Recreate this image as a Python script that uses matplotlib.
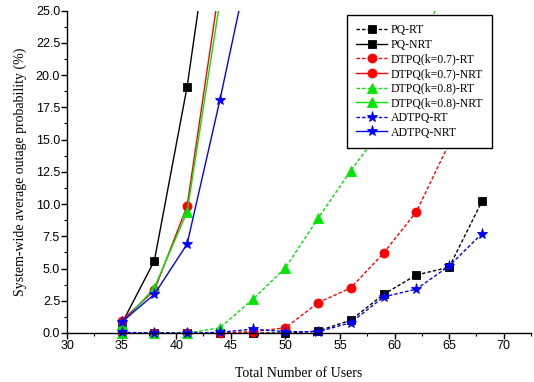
import matplotlib
matplotlib.use("Agg")
import matplotlib.pyplot as plt
from matplotlib.ticker import MultipleLocator, FormatStrFormatter
from matplotlib.transforms import Bbox, TransformedBbox

# ---- data ----
users_rt = [35, 38, 41, 44, 47, 50, 53, 56, 59, 62, 65, 68]
pq_rt = [0.0, 0.0, 0.0, 0.0, 0.0, 0.0, 0.15, 1.0, 3.0, 4.5, 5.1, 10.2]
dtpq07_rt = [0.0, 0.0, 0.0, 0.0, 0.1, 0.4, 2.35, 3.5, 6.2, 9.4, 14.7, 21.0]
dtpq08_rt = [0.0, 0.0, 0.0, 0.4, 2.6, 5.05, 8.9, 12.6, 16.0, 21.0, 28.0, 35.0]
adtpq_rt = [0.05, 0.0, 0.0, 0.05, 0.3, 0.1, 0.1, 0.8, 2.8, 3.4, 5.2, 7.7]

users_nrt = [35, 38, 41, 44, 47]
pq_nrt = [0.7, 5.6, 19.1, 36.8, 55.0]
dtpq07_nrt = [0.95, 3.3, 9.85, 27.1, 45.0]
dtpq08_nrt = [0.7, 3.5, 9.4, 25.7, 42.0]
adtpq_nrt = [0.85, 3.0, 6.9, 18.05, 30.0]

labels = ["PQ-RT", "PQ-NRT", "DTPQ(k=0.7)-RT", "DTPQ(k=0.7)-NRT",
          "DTPQ(k=0.8)-RT", "DTPQ(k=0.8)-NRT", "ADTPQ-RT", "ADTPQ-NRT"]

BLACK, RED, GREEN, BLUE = "#000000", "#ff0000", "#00e600", "#0000ff"
dash = (0, (2.5, 1.5))

fig = plt.figure(figsize=(5.34, 3.82), dpi=100)
ax = fig.add_axes([0.1255, 0.1283, 0.8689, 0.8437])

series = [
    (users_rt, pq_rt, BLACK, "s", 5.5, dash),
    (users_nrt, pq_nrt, BLACK, "s", 5.5, "-"),
    (users_rt, dtpq07_rt, RED, "o", 6.5, dash),
    (users_nrt, dtpq07_nrt, RED, "o", 6.5, "-"),
    (users_rt, dtpq08_rt, GREEN, "^", 6.5, dash),
    (users_nrt, dtpq08_nrt, GREEN, "^", 6.5, "-"),
    (users_rt, adtpq_rt, BLUE, "*", 8, dash),
    (users_nrt, adtpq_nrt, BLUE, "*", 8, "-"),
]

clipbox = TransformedBbox(Bbox([[-0.05, -0.06], [1.05, 1.0]]), ax.transAxes)
for (xs, ys, c, m, ms, ls), lab in zip(series, labels):
    ln, = ax.plot(xs, ys, color=c, marker=m, markersize=ms, linestyle=ls,
                  linewidth=1.0, markeredgewidth=0.6, markeredgecolor=c,
                  label=lab)
    ln.set_clip_box(clipbox)

ax.set_xlim(30, 72.5)
ax.set_ylim(0, 25)
ax.xaxis.set_major_locator(MultipleLocator(5))
ax.xaxis.set_minor_locator(MultipleLocator(2.5))
ax.yaxis.set_major_locator(MultipleLocator(2.5))
ax.yaxis.set_minor_locator(MultipleLocator(1.25))
ax.yaxis.set_major_formatter(FormatStrFormatter("%.1f"))
ax.spines["top"].set_visible(False)
ax.spines["right"].set_visible(False)
for s in ("left", "bottom"):
    ax.spines[s].set_linewidth(1.0)
ax.tick_params(which="major", direction="out", length=4, width=1.0,
               labelsize=9, pad=1)
ax.tick_params(which="minor", direction="out", length=2.5, width=0.8)
for t in ax.get_xticklabels() + ax.get_yticklabels():
    t.set_fontfamily("Liberation Sans")

ax.set_xlabel("Total Number of Users", fontfamily="Liberation Serif",
              fontsize=10, labelpad=11)
ax.set_ylabel("System-wide average outage probability (%)",
              fontfamily="Liberation Serif", fontsize=10, labelpad=6)

leg = ax.legend(loc="upper left", bbox_to_anchor=(0.603, 0.987),
                borderaxespad=0, numpoints=1, fancybox=False, framealpha=1,
                edgecolor="black", prop={"family": "Liberation Serif", "size": 8.5},
                handlelength=2.6, labelspacing=0.22, handletextpad=0.3,
                borderpad=0.8)
leg.get_frame().set_linewidth(1.0)

fig.savefig("out.png", dpi=100)
